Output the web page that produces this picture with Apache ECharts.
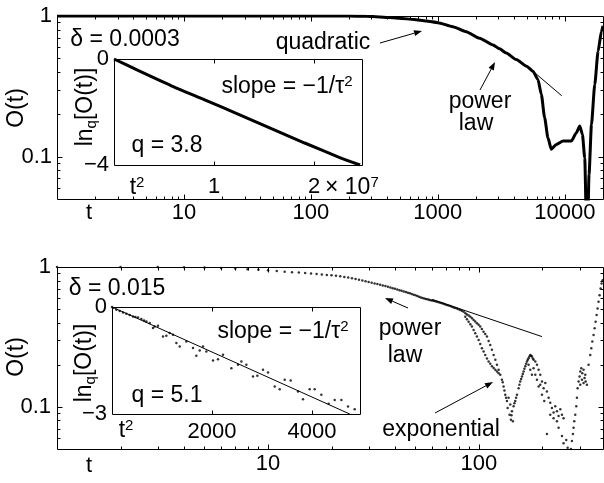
<!DOCTYPE html>
<html>
<head>
<meta charset="utf-8">
<script src="https://cdn.jsdelivr.net/npm/echarts@6/dist/echarts.min.js"></script>
<style>
html, body { margin: 0; padding: 0; background: #fff; }
#chart { width: 604px; height: 483px; }
</style>
</head>
<body>
<div id="chart"></div>
<script>
// ---- upper panel, delta = 0.0003 : O(t) curve ----
var tA = [1, 10, 50, 100, 200, 272, 350, 498, 650, 809, 1000, 1312, 1672, 2130, 2716, 3064, 3460, 4150, 5000, 5610,
  6150, 6535, 6940, 7370, 7830, 8580, 9690, 11270, 12350, 13120, 13770, 14360, 14970, 15530, 16220, 17220, 18290, 19450, 20000];
var oA = [1, 1, 1, 0.999, 0.998, 0.996, 0.985, 0.963, 0.945, 0.922, 0.897, 0.84, 0.774, 0.695, 0.623, 0.584, 0.545, 0.49, 0.44, 0.405,
  0.353, 0.277, 0.189, 0.136, 0.113, 0.122, 0.129, 0.129, 0.148, 0.165, 0.144, 0.098, 0.02, 0.075, 0.169, 0.326, 0.562, 0.78, 0.85];
// power law guide (upper)
var powT_A = [5610, 9460];
var powO_A = [0.405, 0.271];
// inset: ln_q O vs t^2
var t2A = [0, 2.4e6, 5.74e6, 9.07e6, 1.24e7, 1.574e7, 1.907e7, 2.24e7, 2.46e7];
var lnqA = [0, -0.43, -1.01, -1.54, -2.08, -2.63, -3.17, -3.69, -4.0];

// ---- lower panel, delta = 0.015 : O(t) dots ----
var dotsDecay = [
  [1, 1.0], [2, 0.999], [3, 0.998], [4, 0.996], [5, 0.993], [6, 0.985], [7, 0.975], [8, 0.965], [9, 0.955], [10, 0.948],
  [11, 0.938], [12, 0.925], [13, 0.918], [14, 0.912], [15, 0.905], [16, 0.897], [17, 0.89], [18, 0.885], [19, 0.878], [20, 0.873],
  [21, 0.866], [22, 0.86], [23, 0.848], [24, 0.84], [25, 0.83], [26, 0.82], [27, 0.81], [28, 0.8], [29, 0.79], [30, 0.78],
  [31, 0.772], [32, 0.763], [33, 0.755], [34, 0.746], [35, 0.738], [36, 0.73], [37, 0.722], [38, 0.714], [39, 0.706], [40, 0.698],
  [41, 0.69], [42, 0.683], [43, 0.676], [44, 0.669], [45, 0.662], [46, 0.655], [47, 0.648], [48, 0.641], [49, 0.634], [50, 0.627],
  [51, 0.62], [52, 0.613], [53, 0.606], [54, 0.6], [55, 0.595], [56, 0.591], [57, 0.587], [58, 0.583], [59, 0.579], [60, 0.576],
  [61, 0.573], [62, 0.569], [63.2, 0.564], [64.4, 0.56], [65.6, 0.555], [66.8, 0.55], [68, 0.546], [69.2, 0.54], [70.5, 0.534],
  [71.8, 0.53], [73.1, 0.526], [74.4, 0.52], [75.8, 0.514], [77.2, 0.51], [78.6, 0.506], [80, 0.499], [81.5, 0.492], [83, 0.486], [84.6, 0.479]
];
var dotsSplit = [
  [86.2, 0.468], [87.7, 0.458], [89.4, 0.45], [91.0, 0.441], [92.7, 0.43], [94.3, 0.418], [96.0, 0.407], [97.8, 0.396],
  [99.6, 0.386], [101.4, 0.375], [103.2, 0.36], [105.1, 0.345], [107.1, 0.332], [109.1, 0.318], [111.1, 0.296],
  [113.1, 0.277], [115.2, 0.256], [117.3, 0.235], [119.5, 0.217], [121.7, 0.2], [123.9, 0.184], [126.2, 0.17],
  [86.1, 0.441], [87.7, 0.424], [89.3, 0.406], [91.0, 0.39], [92.6, 0.375], [94.3, 0.355], [96.0, 0.336], [97.8, 0.318],
  [99.6, 0.301], [101.4, 0.282], [103.3, 0.263], [105.2, 0.249], [107.1, 0.235], [109.1, 0.222], [111.1, 0.211],
  [113.1, 0.203], [115.2, 0.195], [117.3, 0.19], [119.5, 0.184], [121.7, 0.179], [123.9, 0.174]
];
var dotsTrough = [
  [128.5, 0.156], [130.8, 0.14], [133.2, 0.122], [135.7, 0.11], [136.7, 0.098], [139.6, 0.088], [141.7, 0.081], [143.3, 0.093],
  [145.9, 0.101], [140.7, 0.104], [148.6, 0.11], [151.4, 0.122], [138.1, 0.116], [144.8, 0.079], [129.6, 0.15], [132, 0.131],
  [134.4, 0.116], [142.5, 0.087], [147.2, 0.106], [150, 0.116]
];
var dotsHump = [
  [154.1, 0.136], [156.9, 0.152], [159.9, 0.165], [162.7, 0.179], [165.8, 0.195], [168.8, 0.211], [171.8, 0.223], [175.0, 0.235],
  [178.3, 0.229], [181.5, 0.217], [184.9, 0.211], [188.3, 0.2], [171.8, 0.2], [175.0, 0.184], [178.3, 0.17], [181.5, 0.189],
  [184.9, 0.17], [188.3, 0.156], [191.7, 0.184], [195.2, 0.17], [198.9, 0.152], [191.7, 0.14], [202.4, 0.136], [206.2, 0.148],
  [209.9, 0.129], [213.8, 0.116], [217.7, 0.107], [221.8, 0.098], [225.7, 0.091], [229.9, 0.101], [234.2, 0.093], [238.4, 0.086],
  [242.9, 0.096], [247.4, 0.088], [225.7, 0.083], [217.7, 0.088], [234.2, 0.079], [251.7, 0.083], [195.2, 0.144], [198.9, 0.122],
  [203.9, 0.11], [155.5, 0.144], [158.4, 0.158], [161.3, 0.172], [164.2, 0.187], [167.3, 0.203], [170.3, 0.217], [173.4, 0.229],
  [176.6, 0.232], [180, 0.222]
];
var dotsDip = [
  [209.9, 0.064], [238.4, 0.071], [247.4, 0.062], [251.7, 0.055], [259.3, 0.058], [263.1, 0.051], [267.8, 0.048], [272.8, 0.05],
  [275.9, 0.057], [278.8, 0.064], [280.8, 0.071], [282.9, 0.079], [286.0, 0.088], [289.2, 0.101], [291.3, 0.116]
];
var dotsRise = [
  [293.4, 0.136], [296.5, 0.152], [299.8, 0.165], [302.1, 0.179], [305.4, 0.189], [308.8, 0.174], [313.1, 0.184], [316.6, 0.161],
  [320.2, 0.152], [324.8, 0.144], [307.7, 0.156], [313.1, 0.148], [319.0, 0.17], [302.1, 0.144],
  [330.7, 0.2], [336.9, 0.235], [340.7, 0.263], [344.4, 0.293], [349.2, 0.327], [353.2, 0.365], [357.1, 0.406], [361.0, 0.453],
  [365.0, 0.506], [368.8, 0.564], [372.9, 0.629], [377.1, 0.702], [381.3, 0.761], [385.5, 0.804], [389.5, 0.827], [395, 0.86]
];
// power law guide (lower)
var powT_B = [60, 198.9];
var powO_B = [0.586, 0.318];
// inset: ln_q O vs t^2 (dots) and fit line
var insetDotsB = [
  [0, 0], [20.6, -0.03], [87, -0.076], [154, -0.113], [220, -0.151], [287, -0.188], [354, -0.226], [420, -0.263], [467, -0.282],
  [520, -0.291], [587, -0.338], [640, -0.376], [687, -0.404], [754, -0.45], [820, -0.591], [854, -0.544], [920, -0.525],
  [1020, -0.825], [1087, -0.806], [1154, -0.731], [1220, -0.778], [1287, -1.012], [1354, -1.106], [1487, -0.965], [1620, -1.153],
  [1687, -1.368], [1754, -1.218], [1820, -1.106], [1887, -1.246], [2020, -1.499], [2120, -1.462], [2220, -1.34], [2387, -1.714],
  [2520, -1.62], [2587, -1.527], [2687, -1.62], [2820, -1.949], [2907, -1.93], [3020, -1.761], [3120, -1.836], [3254, -2.229],
  [3354, -2.304], [3454, -2.042], [3574, -2.061], [3720, -2.37], [3820, -2.585], [3954, -2.304], [4054, -2.304], [4187, -2.463],
  [4334, -2.716], [4454, -2.604], [4587, -2.604], [4720, -2.791], [4854, -2.866]
];
var fitT2B = [0, 4754];
var fitLnqB = [0, -3];

// ---- tick values ----
var xMajorA = [10, 100, 1000, 10000], xLabelA = [10, 100, 1000, 10000];
var xMajorB = [10, 100], xLabelB = [10, 100];
var yMajor = [0.1], yLabel = [0.1, 1];
var insetTicksA = [1e7, 2e7], insetTicksB = [2000, 4000];

var FONT = 'Liberation Sans, Arial, Helvetica, sans-serif';
var INK = '#000';
var lg = Math.log10;

function minorOf(majors, lo, hi) {
  var out = [];
  majors.forEach(function (d) {
    for (var k = 2; k <= 9; k++) { if (k * d > lo && k * d < hi) out.push(k * d); }
  });
  return out;
}
function zip(a, b) { return a.map(function (v, i) { return [v, b[i]]; }); }
function fmtPow(v) {
  var r = Math.pow(10, v);
  return r >= 1 ? String(Math.round(r)) : String(+r.toPrecision(2));
}
function signed(v) { return v === 0 ? '0' : '\u2212' + Math.abs(v); }

// layout of the four plot boxes
var boxTop = { left: 57, top: 16, width: 546, height: 183 };
var boxTopIn = { left: 114, top: 59, width: 248, height: 106 };
var boxBot = { left: 57, top: 267, width: 546, height: 182 };
var boxBotIn = { left: 112, top: 307, width: 248, height: 107 };
function copy(o) { return { left: o.left, top: o.top, width: o.width, height: o.height }; }

// axes: hidden log axes carry the data, value axes (log10 units for the main panels) carry the tick labels
function dataAxis(grid, min, max) {
  return { type: 'log', logBase: 10, gridIndex: grid, min: min, max: max, show: false };
}
function labelAxis(grid, min, max, pos, vals, margin, fmt) {
  return {
    type: 'value', gridIndex: grid, min: min, max: max, position: pos,
    splitLine: { show: false }, axisLine: { show: false, onZero: false }, axisTick: { show: false },
    axisLabel: { show: true, customValues: vals, margin: margin, color: INK, fontSize: 22, fontFamily: FONT, formatter: fmt }
  };
}

// lower panel runs to t = 400, its right edge just past the picture
var botMax = Math.pow(10, lg(400) * 546 / 549);

var xAxes = [], yAxes = [];
var xA = xAxes.push(dataAxis(0, 1, 20000)) - 1;
var yA = yAxes.push(dataAxis(0, 0.05, 1)) - 1;
var xAi = xAxes.push(labelAxis(1, 0, 2.48e7, 'bottom', insetTicksA, 11, function (v) { return String(Math.round(v / 1e7)); })) - 1;
var yAi = yAxes.push(labelAxis(1, -4, 0, 'left', [0, -4], 5, signed)) - 1;
var xB = xAxes.push(dataAxis(2, 1, botMax)) - 1;
var yB = yAxes.push(dataAxis(2, 0.05, 1)) - 1;
var xBi = xAxes.push(labelAxis(3, 0, 4960, 'bottom', insetTicksB, 7, function (v) { return String(v); })) - 1;
var yBi = yAxes.push(labelAxis(3, -3, 0, 'left', [0, -3], 5, signed)) - 1;
xAxes.push(labelAxis(4, 0, lg(20000), 'bottom', xLabelA.map(lg), 3, fmtPow));
yAxes.push(labelAxis(4, lg(0.05), 0, 'left', yLabel.map(lg), 5, fmtPow));
xAxes.push(labelAxis(5, 0, lg(botMax), 'bottom', xLabelB.map(lg), 4, fmtPow));
yAxes.push(labelAxis(5, lg(0.05), 0, 'left', yLabel.map(lg), 6, fmtPow));

// ---- annotations ----
function txt(x, y, s, rot, size) {
  return {
    type: 'text', x: x, y: y, rotation: rot || 0, z: 100,
    style: { text: s, fill: INK, font: (size || 23) + 'px ' + FONT, align: 'center', verticalAlign: 'middle' }
  };
}
function richTxt(x, y, s, rot, align) {
  return {
    type: 'text', x: x, y: y, rotation: rot || 0, z: 100,
    style: {
      text: s, align: align || 'center', verticalAlign: 'middle', fill: INK, font: '23px ' + FONT,
      rich: {
        a: { fontSize: 23, fontFamily: FONT, fill: INK, lineHeight: 26 },
        s: { fontSize: 15, fontFamily: FONT, fill: INK, verticalAlign: 'top', lineHeight: 26, padding: [0, 0, 10, 0] },
        b: { fontSize: 15, fontFamily: FONT, fill: INK, verticalAlign: 'bottom', lineHeight: 26, padding: [8, 0, 0, 0] }
      }
    }
  };
}
function seg(x1, y1, x2, y2) {
  return { type: 'line', z: 100, silent: true, shape: { x1: x1, y1: y1, x2: x2, y2: y2 }, style: { stroke: INK, lineWidth: 1 } };
}
function arrow(x1, y1, x2, y2) {
  var ang = Math.atan2(y2 - y1, x2 - x1), L = 8, W = 3;
  var bx = x2 - L * Math.cos(ang), by = y2 - L * Math.sin(ang);
  var px = -Math.sin(ang) * W, py = Math.cos(ang) * W;
  return [
    { type: 'line', z: 100, shape: { x1: x1, y1: y1, x2: bx, y2: by }, style: { stroke: INK, lineWidth: 1 } },
    { type: 'polygon', z: 100, shape: { points: [[x2, y2], [bx + px, by + py], [bx - px, by - py]] }, style: { fill: INK } }
  ];
}

var graphics = [
  txt(125, 40, '\u03b4 = 0.0003'),
  txt(323, 43, 'quadratic'),
  txt(480, 102, 'power'), txt(476, 124, 'law'),
  richTxt(287, 87, '{a|slope = \u22121/\u03c4}{s|2}'),
  txt(167, 146, 'q = 3.8'),
  richTxt(137, 188, '{a|t}{s|2}'),
  richTxt(325, 188, '{a|\u00d7 10}{s|7}', 0, 'left'),
  txt(89, 213, 't', 0, 22),
  txt(17, 108, 'O(t)', Math.PI / 2),
  richTxt(86, 107, '{a|ln}{b|q}{a|[O(t)]}', Math.PI / 2),

  txt(117, 289, '\u03b4 = 0.015'),
  txt(410, 329, 'power'), txt(405, 356, 'law'),
  txt(441, 430, 'exponential'),
  richTxt(283, 332, '{a|slope = \u22121/\u03c4}{s|2}'),
  txt(167, 396, 'q = 5.1'),
  richTxt(126, 431, '{a|t}{s|2}'),
  txt(89, 466, 't', 0, 22),
  txt(17, 357, 'O(t)', Math.PI / 2),
  richTxt(85, 363, '{a|ln}{b|q}{a|[O(t)]}', Math.PI / 2)
];
graphics = graphics.concat(arrow(380, 43, 422, 31), arrow(480, 90, 495, 62),
  arrow(408, 308, 385, 298), arrow(435, 413, 493, 382));

var dotStyle = { color: INK };
var allDots = [].concat(dotsDecay, dotsSplit, dotsTrough, dotsHump, dotsDip, dotsRise);

var chart = echarts.init(document.getElementById('chart'));
chart.setOption({
  animation: false,
  backgroundColor: '#fff',
  grid: [copy(boxTop), copy(boxTopIn), copy(boxBot), copy(boxBotIn), copy(boxTop), copy(boxBot)],
  xAxis: xAxes,
  yAxis: yAxes,
  series: [
    { type: 'line', xAxisIndex: xA, yAxisIndex: yA, data: zip(tA, oA), showSymbol: false, smooth: 0.2,
      smoothMonotone: 'x', lineStyle: { color: INK, width: 3 }, clip: true },
    { type: 'line', xAxisIndex: xA, yAxisIndex: yA, data: zip(powT_A, powO_A), showSymbol: false,
      lineStyle: { color: INK, width: 1 } },
    { type: 'line', xAxisIndex: xAi, yAxisIndex: yAi, data: zip(t2A, lnqA), showSymbol: false, smooth: 0.2,
      lineStyle: { color: INK, width: 3 } },
    { type: 'scatter', xAxisIndex: xB, yAxisIndex: yB, data: allDots, symbolSize: 2.5, itemStyle: dotStyle, clip: true },
    { type: 'line', xAxisIndex: xB, yAxisIndex: yB, data: zip(powT_B, powO_B), showSymbol: false,
      lineStyle: { color: INK, width: 1 } },
    { type: 'scatter', xAxisIndex: xBi, yAxisIndex: yBi, data: insetDotsB, symbolSize: 2.5, itemStyle: dotStyle },
    { type: 'line', xAxisIndex: xBi, yAxisIndex: yBi, data: zip(fitT2B, fitLnqB), showSymbol: false,
      lineStyle: { color: INK, width: 1 } }
  ]
});

// ---- frames and inward ticks, placed through the axes' own scales ----
var marks = [];
function frame(b) {
  var l = b.left + 0.5, t = b.top + 0.5, r = b.left + b.width + 0.5, btm = b.top + b.height + 0.5;
  marks.push(seg(l, t, r, t), seg(l, btm, r, btm), seg(l, t, l, btm), seg(r, t, r, btm));
}
function xTicks(axisIdx, vals, b, len) {
  var yb = b.top + b.height + 0.5, yt = b.top + 0.5;
  vals.forEach(function (v) {
    var px = Math.round(chart.convertToPixel({ xAxisIndex: axisIdx }, v)) + 0.5;
    marks.push(seg(px, yb, px, yb - len), seg(px, yt, px, yt + len));
  });
}
function yTicks(axisIdx, vals, b, len) {
  var xl = b.left + 0.5, xr = b.left + b.width + 0.5;
  vals.forEach(function (v) {
    var py = Math.round(chart.convertToPixel({ yAxisIndex: axisIdx }, v)) + 0.5;
    marks.push(seg(xl, py, xl + len, py), seg(xr, py, xr - len, py));
  });
}
[boxTop, boxTopIn, boxBot, boxBotIn].forEach(frame);
var yMinor = minorOf([0.01, 0.1], 0.05, 1);
xTicks(xA, xMajorA, boxTop, 5);
xTicks(xA, minorOf([1].concat(xMajorA), 1, 20000), boxTop, 3);
yTicks(yA, yMajor, boxTop, 5);
yTicks(yA, yMinor, boxTop, 3);
xTicks(xB, xMajorB, boxBot, 5);
xTicks(xB, minorOf([1].concat(xMajorB), 1, botMax), boxBot, 3);
yTicks(yB, yMajor, boxBot, 5);
yTicks(yB, yMinor, boxBot, 3);
xTicks(xAi, insetTicksA, boxTopIn, 4);
xTicks(xBi, insetTicksB, boxBotIn, 4);

chart.setOption({ graphic: graphics.concat(marks) });
</script>
</body>
</html>
